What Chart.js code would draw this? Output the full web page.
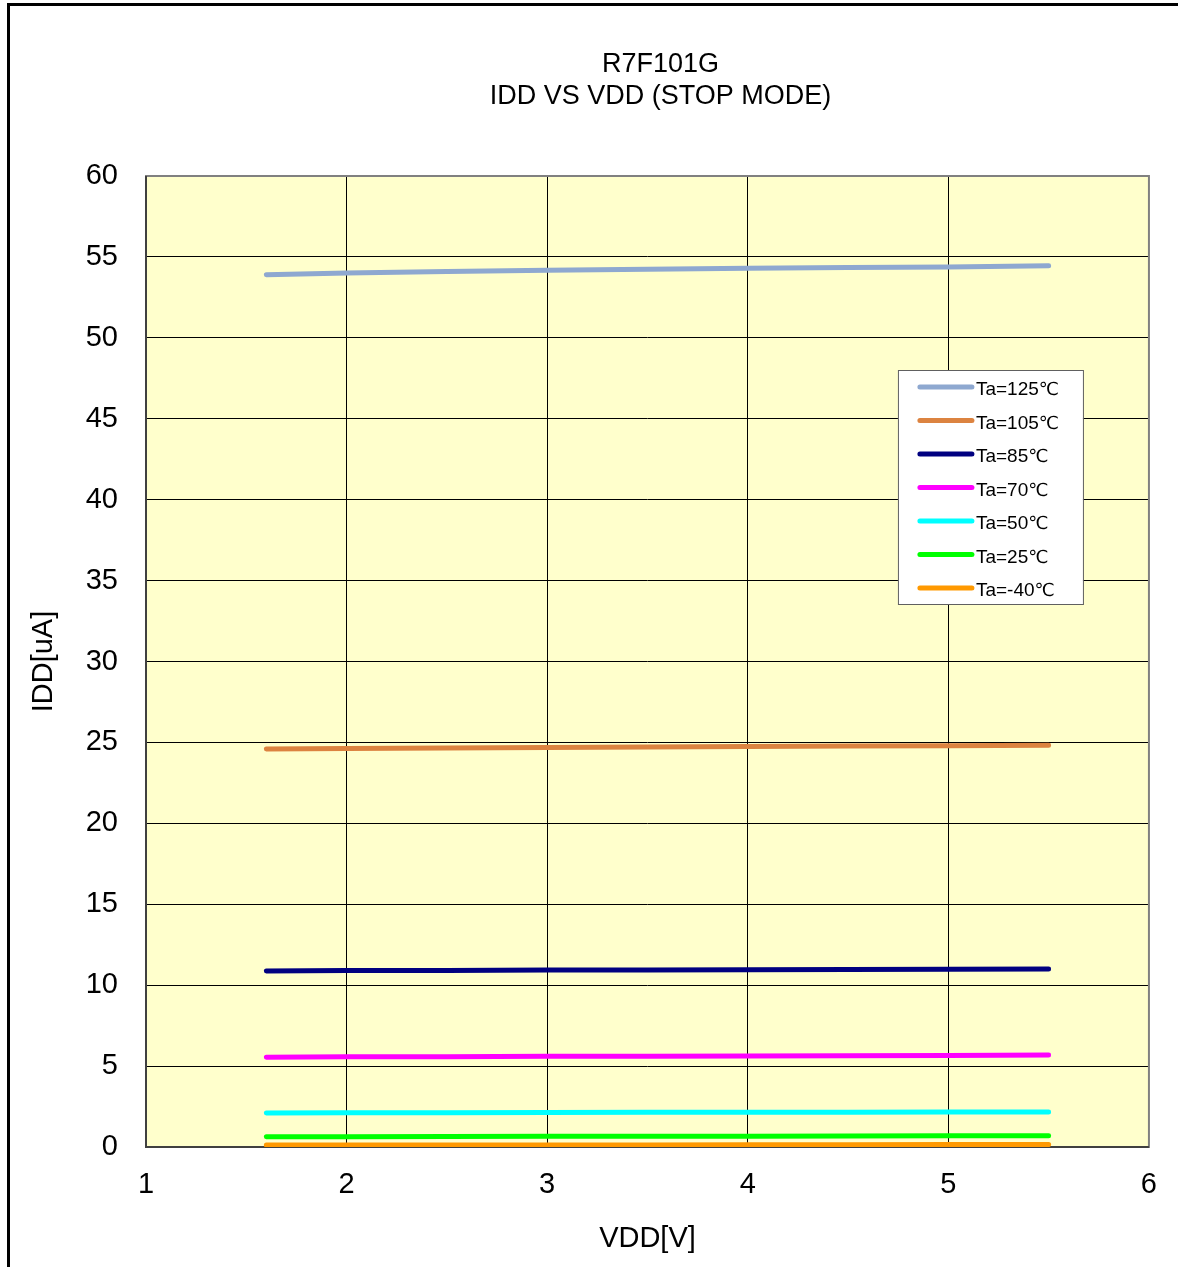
<!DOCTYPE html>
<html>
<head>
<meta charset="utf-8">
<script src="https://cdn.jsdelivr.net/npm/chart.js@4.4.1/dist/chart.umd.min.js"></script>
<style>
  html, body { margin: 0; padding: 0; background: #ffffff; }
  #wrap { width: 1178px; height: 1267px; position: relative; }
</style>
</head>
<body>
<div id="wrap"><canvas id="stopChart" width="1178" height="1267"></canvas></div>
<script>
// IDD vs VDD (STOP MODE) - R7F101G

const vdd = [1.6, 2.0, 2.5, 3.0, 3.5, 4.0, 4.5, 5.0, 5.5];

const idd125 = [53.9, 54.0, 54.1, 54.18, 54.24, 54.3, 54.34, 54.38, 54.45];
const idd105 = [24.6, 24.63, 24.66, 24.69, 24.72, 24.75, 24.78, 24.8, 24.83];
const idd85 = [10.88, 10.9, 10.91, 10.93, 10.94, 10.96, 10.97, 10.98, 11.0];
const idd70 = [5.55, 5.57, 5.58, 5.6, 5.61, 5.63, 5.64, 5.66, 5.68];
const idd50 = [2.1, 2.11, 2.12, 2.13, 2.14, 2.15, 2.15, 2.16, 2.17];
const idd25 = [0.63, 0.64, 0.65, 0.66, 0.66, 0.67, 0.68, 0.69, 0.7];
const iddM40 = [0.12, 0.12, 0.13, 0.13, 0.13, 0.14, 0.14, 0.15, 0.15];

const seriesLabels = ['Ta=125℃', 'Ta=105℃', 'Ta=85℃', 'Ta=70℃', 'Ta=50℃', 'Ta=25℃', 'Ta=-40℃'];
const seriesData = [idd125, idd105, idd85, idd70, idd50, idd25, iddM40];
const seriesColors = ['#8ea8d0', '#dc8340', '#000080', '#ff00ff', '#00ffff', '#00ff00', '#ff9900'];

const xTicks = [1, 2, 3, 4, 5, 6];
const yTicks = [0, 5, 10, 15, 20, 25, 30, 35, 40, 45, 50, 55, 60];

const titleLines = ['R7F101G', 'IDD VS VDD (STOP MODE)'];
const FONT = "'Liberation Sans', Arial, sans-serif";
const DEG_FONT = "'DejaVu Sans', sans-serif";

// page frame, plot background, title and plot border
const framePlugin = {
    id: 'framePlugin',
    beforeDraw(chart) {
        const c = chart.ctx;
        const a = chart.chartArea;
        c.save();
        c.fillStyle = '#ffffff';
        c.fillRect(0, 0, chart.width, chart.height);
        c.fillStyle = '#000000';
        c.fillRect(7, 3, 3, chart.height - 3);
        c.fillRect(7, 3, chart.width - 7, 3);
        c.fillStyle = '#ffffcc';
        c.fillRect(a.left, a.top, a.right - a.left, a.bottom - a.top);
        // title
        c.fillStyle = '#000000';
        c.font = '27px ' + FONT;
        c.textAlign = 'center';
        c.textBaseline = 'middle';
        const cx = (a.left + a.right) / 2 + 13;
        titleLines.forEach((t, i) => c.fillText(t, cx, 65 + i * 32));
        c.restore();
    },
    beforeDatasetsDraw(chart) {
        const c = chart.ctx;
        const a = chart.chartArea;
        c.save();
        c.strokeStyle = '#808080';
        c.lineWidth = 2;
        c.strokeRect(a.left, a.top, a.right - a.left, a.bottom - a.top);
        c.strokeStyle = '#404040';
        c.beginPath();
        c.moveTo(a.left, a.top);
        c.lineTo(a.left, a.bottom);
        c.lineTo(a.right, a.bottom);
        c.stroke();
        c.restore();
    }
};

// legend box inside the plot
const boxLegend = {
    id: 'boxLegend',
    afterDatasetsDraw(chart) {
        const c = chart.ctx;
        const a = chart.chartArea;
        const x0 = a.right - 251;
        const y0 = a.top + 194;
        const w = 185, h = 234;
        c.save();
        c.fillStyle = '#ffffff';
        c.fillRect(x0, y0, w, h);
        c.strokeStyle = '#606060';
        c.lineWidth = 1;
        c.strokeRect(x0 + 0.5, y0 + 0.5, w, h);
        c.textBaseline = 'alphabetic';
        c.textAlign = 'left';
        chart.data.datasets.forEach((ds, i) => {
            const y = y0 + 17 + i * 33.5;
            c.strokeStyle = ds.borderColor;
            c.lineWidth = 5;
            c.lineCap = 'round';
            c.beginPath();
            c.moveTo(x0 + 22, y);
            c.lineTo(x0 + 74, y);
            c.stroke();
            // label text, degree sign in a wider font like the original
            const main = ds.label.replace('℃', '');
            c.fillStyle = '#000000';
            c.font = '19px ' + FONT;
            c.fillText(main, x0 + 78, y + 8);
            const wMain = c.measureText(main).width;
            c.font = '18px ' + DEG_FONT;
            c.fillText('℃', x0 + 78 + wMain, y + 8);
        });
        c.restore();
    }
};

function gridColor(ctx, min, max) {
    const v = ctx.tick ? ctx.tick.value : null;
    if (v === min || v === max) return 'rgba(0,0,0,0)';
    return '#000000';
}

const datasets = seriesLabels.map((label, i) => ({
    label: label,
    data: vdd.map((v, j) => ({ x: v, y: seriesData[i][j] })),
    borderColor: seriesColors[i],
    backgroundColor: seriesColors[i],
    borderWidth: 5,
    borderCapStyle: 'round',
    borderJoinStyle: 'round',
    pointRadius: 0,
    tension: 0,
    fill: false
}));

new Chart(document.getElementById('stopChart'), {
    type: 'line',
    data: { datasets: datasets },
    options: {
        responsive: false,
        animation: false,
        events: [],
        layout: { padding: { left: 0, right: 24, top: 176, bottom: 0 } },
        plugins: {
            legend: { display: false },
            title: { display: false },
            tooltip: { enabled: false }
        },
        scales: {
            x: {
                type: 'linear',
                min: 1,
                max: 6,
                afterBuildTicks(scale) {
                    scale.ticks = xTicks.map(v => ({ value: v }));
                },
                afterFit(scale) { scale.height = 120; },
                border: { display: false },
                grid: {
                    drawTicks: false,
                    color: ctx => gridColor(ctx, 1, 6),
                    lineWidth: 1
                },
                ticks: {
                    padding: 21,
                    color: '#000000',
                    font: { family: FONT, size: 29 }
                },
                title: {
                    display: true,
                    text: 'VDD[V]',
                    color: '#000000',
                    font: { family: FONT, size: 29 },
                    padding: { top: 0, bottom: 11 }
                }
            },
            y: {
                type: 'linear',
                min: 0,
                max: 60,
                afterBuildTicks(scale) {
                    scale.ticks = yTicks.map(v => ({ value: v }));
                },
                afterFit(scale) { scale.width = 146; },
                border: { display: false },
                grid: {
                    drawTicks: false,
                    color: ctx => gridColor(ctx, 0, 60),
                    lineWidth: 1
                },
                ticks: {
                    padding: 28,
                    color: '#000000',
                    font: { family: FONT, size: 29 }
                },
                title: {
                    display: true,
                    text: 'IDD[uA]',
                    color: '#000000',
                    font: { family: FONT, size: 29 },
                    padding: { top: 27, bottom: 0 }
                }
            }
        }
    },
    plugins: [framePlugin, boxLegend]
});
</script>
</body>
</html>
